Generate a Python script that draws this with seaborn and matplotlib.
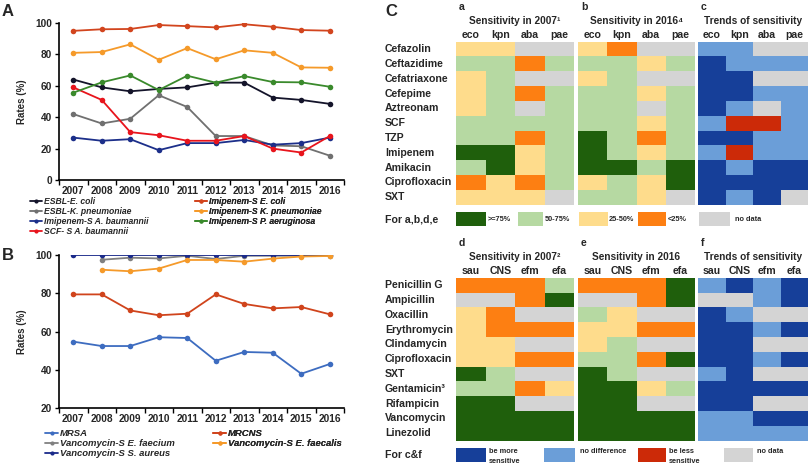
import numpy as np
import pandas as pd
import matplotlib
matplotlib.use("Agg")
import matplotlib.pyplot as plt
import seaborn as sns
from matplotlib.colors import ListedColormap
from matplotlib.patches import Rectangle
from matplotlib.lines import Line2D

sns.set_theme(style="white")
plt.rcParams["font.family"] = ["Liberation Sans", "DejaVu Sans"]
plt.rcParams["font.weight"] = "bold"
plt.rcParams["axes.labelweight"] = "bold"

# ---------------- data ----------------
years = [2007, 2008, 2009, 2010, 2011, 2012, 2013, 2014, 2015, 2016]

# Panel A
esbl_eco = [64, 59, 56.5, 58, 59, 62, 62, 52.5, 51, 48.5]
esbl_kpn = [42, 36, 39, 54, 46.5, 28, 28, 22, 21.5, 15.5]
imp_aba = [27, 25, 26, 19, 23.5, 23.5, 25.5, 22.5, 23.5, 27]
scf_aba = [59, 51, 30.5, 28.5, 25, 25, 28, 20, 17.5, 28]
imp_eco = [95, 96, 96.2, 98.7, 98, 97.2, 99.2, 97.6, 95.5, 95.1]
imp_kpn = [81, 81.5, 86.4, 76.6, 84, 76.9, 82.6, 81, 71.7, 71.5]
imp_pae = [55.6, 62.2, 66.6, 57.3, 66.4, 62, 66.2, 62.4, 62.2, 59.4]
series_A = ["ESBL-E. coli", "ESBL-K. pneumoniae", "Imipenem-S A. baumannii",
            "SCF- S A. baumannii", "Imipenem-S E. coli",
            "Imipenem-S K. pneumoniae", "Imipenem-S P. aeruginosa"]
values_A = [esbl_eco, esbl_kpn, imp_aba, scf_aba, imp_eco, imp_kpn, imp_pae]
colors_A = ["#14142a", "#707070", "#1c2f8a", "#e8141c", "#d2451e",
            "#f59a2a", "#3a8a2c"]

# Panel B
mrsa = [54.7, 52.4, 52.4, 57, 56.6, 44.7, 49.3, 48.9, 37.9, 43]
mrcns = [79.4, 79.4, 71, 68.5, 69.3, 79.4, 74.4, 72.1, 72.8, 69]
van_efm = [np.nan, 97.5, 98.6, 98.2, 99.6, 97.9, 99.6, 99.6, 99.6, 99.6]
van_efa = [np.nan, 92.3, 91.5, 92.9, 97.4, 97.4, 96.5, 98.1, 99.2, 99.5]
van_sau = [100, 100, 100, 100, 100, 100, 100, 100, 100, 100]
series_B = ["MRSA", "Vancomycin-S E. faecium", "Vancomycin-S S. aureus",
            "MRCNS", "Vancomycin-S E. faecalis"]
values_B = [mrsa, van_efm, van_sau, mrcns, van_efa]
colors_B = ["#3d6cc0", "#808080", "#1a2a8a", "#d0441c", "#f59a2a"]

# Panel C heatmaps
gn_drugs = ["Cefazolin", "Ceftazidime", "Cefatriaxone", "Cefepime", "Aztreonam",
            "SCF", "TZP", "Imipenem", "Amikacin", "Ciprofloxacin", "SXT"]
gn_orgs = ["eco", "kpn", "aba", "pae"]
gp_drugs = ["Penicillin G", "Ampicillin", "Oxacillin", "Erythromycin",
            "Clindamycin", "Ciprofloxacin", "SXT", "Gentamicin\u00b3",
            "Rifampicin", "Vancomycin", "Linezolid"]
gp_orgs = ["sau", "CNS", "efm", "efa"]
# sensitivity codes: 0 no data, 1 >=75%, 2 50-75%, 3 25-50%, 4 <25%
sens_2007_gn = [[3, 3, 0, 0], [2, 2, 4, 2], [3, 2, 0, 0], [3, 2, 4, 2],
                [3, 2, 0, 2], [2, 2, 2, 2], [2, 2, 4, 2], [1, 1, 3, 2],
                [2, 1, 3, 2], [4, 3, 4, 2], [3, 3, 3, 0]]
sens_2016_gn = [[3, 4, 0, 0], [2, 2, 3, 2], [3, 2, 0, 0], [2, 2, 3, 2],
                [2, 2, 0, 2], [2, 2, 3, 2], [1, 2, 4, 2], [1, 2, 3, 2],
                [1, 1, 2, 1], [3, 2, 3, 1], [2, 2, 3, 0]]
# trend codes: 0 no data, 1 more sensitive, 2 no difference, 3 less sensitive
trend_gn = [[2, 2, 0, 0], [1, 2, 2, 2], [1, 1, 0, 0], [1, 1, 2, 2],
            [1, 2, 0, 2], [2, 3, 3, 2], [1, 1, 2, 2], [2, 3, 2, 2],
            [1, 2, 1, 1], [1, 1, 1, 1], [1, 2, 1, 0]]
sens_2007_gp = [[4, 4, 4, 2], [0, 0, 4, 1], [3, 4, 0, 0], [3, 4, 4, 4],
                [3, 3, 0, 0], [3, 3, 4, 4], [1, 2, 0, 0], [2, 2, 4, 3],
                [1, 1, 0, 0], [1, 1, 1, 1], [1, 1, 1, 1]]
sens_2016_gp = [[4, 4, 4, 1], [0, 0, 4, 1], [2, 3, 0, 0], [3, 3, 4, 4],
                [3, 2, 0, 0], [2, 2, 4, 1], [1, 2, 0, 0], [1, 1, 3, 2],
                [1, 1, 0, 0], [1, 1, 1, 1], [1, 1, 1, 1]]
trend_gp = [[2, 1, 2, 1], [0, 0, 2, 1], [1, 2, 0, 0], [1, 1, 2, 1],
            [1, 1, 0, 0], [1, 1, 2, 1], [2, 1, 0, 0], [1, 1, 1, 1],
            [1, 1, 0, 0], [2, 2, 1, 1], [2, 2, 2, 2]]

sens_labels = [">=75%", "50-75%", "25-50%", "<25%", "no data"]
trend_labels = ["be more\nsensitive", "no difference", "be less\nsensitive", "no data"]

# ---------------- style ----------------
GRAY = "#d4d4d4"
sens_colors = [GRAY, "#1f5f0c", "#b6d9a2", "#fedc8c", "#fd7f12"]
trend_colors = [GRAY, "#163f99", "#6b9ed8", "#cc2a08"]
sens_cmap = ListedColormap(sens_colors)
trend_cmap = ListedColormap(trend_colors)

W, H = 810, 473
fig = plt.figure(figsize=(W / 100, H / 100), dpi=100)


def box(x0, y0, x1, y1):
    return [x0 / W, 1 - y1 / H, (x1 - x0) / W, (y1 - y0) / H]


def fx(x):
    return x / W


def fy(y):
    return 1 - y / H


def line_panel(rect, names, vals, cols, ylim, yticks):
    ax = fig.add_axes(rect)
    rows = []
    for n, v in zip(names, vals):
        for yr, val in zip(years, v):
            rows.append({"year": yr, "rate": val, "series": n})
    df = pd.DataFrame(rows).dropna()
    sns.lineplot(data=df, x="year", y="rate", hue="series", hue_order=names,
                 palette=dict(zip(names, cols)), marker="o", markersize=4,
                 markeredgewidth=0, linewidth=1.3, errorbar=None,
                 legend=False, ax=ax)
    ax.set_xlim(2006.5, 2016.5)
    ax.set_ylim(*ylim)
    ax.set_yticks(yticks)
    ax.set_xticks(years)
    ax.set_xticks(np.arange(2006.5, 2017, 1), minor=True)
    ax.tick_params(axis="x", which="major", length=0, pad=4, labelsize=7.3)
    ax.tick_params(axis="x", which="minor", length=3.5, width=1, direction="out",
                   color="black", bottom=True)
    ax.tick_params(axis="y", length=3, width=1, direction="out", color="black",
                   left=True, labelsize=7.3, pad=2)
    for lab in ax.get_xticklabels() + ax.get_yticklabels():
        lab.set_fontweight("bold")
    ax.set_xlabel("")
    ax.set_ylabel("Rates (%)", fontsize=7, fontweight="bold", labelpad=6)
    sns.despine(ax=ax)
    for s in ["left", "bottom"]:
        ax.spines[s].set_color("black")
        ax.spines[s].set_linewidth(1.2)
    ax.grid(False)
    return ax


def make_legend(ax, names, cols, x, ytop, fs, spacing):
    handles = [Line2D([0], [0], color=c, lw=1.3, marker="o", markersize=3,
                      markeredgewidth=0) for c in cols]
    leg = ax.legend(handles, names, loc="upper left",
                    bbox_to_anchor=(fx(x), fy(ytop)),
                    bbox_transform=fig.transFigure, frameon=False,
                    borderpad=0, borderaxespad=0, handlelength=1.4,
                    handletextpad=0.2, labelspacing=spacing,
                    prop={"size": fs, "weight": "bold", "style": "italic"})
    ax.add_artist(leg)


# Panel A
axA = line_panel(box(59, 23, 344, 180), series_A, values_A, colors_A,
                 (0, 100), [0, 20, 40, 60, 80, 100])
make_legend(axA, series_A[:4], colors_A[:4], 30, 197.5, 6.2, 0.08)
make_legend(axA, series_A[4:], colors_A[4:], 195, 197.5, 6.2, 0.08)
fig.text(fx(2), fy(11), "A", fontsize=12, fontweight="bold", va="center")

# Panel B
axB = line_panel(box(59, 255, 344, 408), series_B, values_B, colors_B,
                 (20, 100), [20, 40, 60, 80, 100])
make_legend(axB, series_B[:3], colors_B[:3], 45, 429.5, 6.8, 0.1)
make_legend(axB, series_B[3:], colors_B[3:], 213, 429.5, 6.8, 0.1)
fig.text(fx(2), fy(256), "B", fontsize=12, fontweight="bold", va="center")

# Panel C heatmaps
fig.text(fx(385), fy(12), "C", fontsize=12, fontweight="bold", va="center")
xs = [(456, 574), (578, 695), (698, 808)]


def heat(rect, mat, cmap, nlev, cols, rows=None):
    ax = fig.add_axes(rect)
    sns.heatmap(np.array(mat), cmap=cmap, vmin=-0.5, vmax=nlev - 0.5,
                cbar=False, ax=ax, xticklabels=cols,
                yticklabels=rows if rows is not None else False,
                linewidths=0)
    ax.xaxis.tick_top()
    ax.tick_params(axis="x", length=0, pad=1.5, labelsize=7.6)
    for lab in ax.get_xticklabels():
        lab.set_fontweight("bold")
        lab.set_rotation(0)
    if rows is not None:
        ax.tick_params(axis="y", length=0, pad=(456 - 385) * 0.72, labelsize=7.6)
        for lab in ax.get_yticklabels():
            lab.set_fontweight("bold")
            lab.set_rotation(0)
            lab.set_horizontalalignment("left")
    return ax


def group(ytop, ybot, mats, rows, cols, letters, titles):
    for i, ((x0, x1), mat) in enumerate(zip(xs, mats)):
        cm, nl = (trend_cmap, 4) if i == 2 else (sens_cmap, 5)
        heat(box(x0, ytop, x1, ybot), mat, cm, nl, cols, rows if i == 0 else None)
        fig.text(fx(x0 + 3), fy(ytop - 35), letters[i], fontsize=7.6,
                 fontweight="bold", va="center")
        fig.text(fx((x0 + x1) / 2), fy(ytop - 21), titles[i], fontsize=7.3,
                 fontweight="bold", va="center", ha="center")


group(41.7, 204.5, [sens_2007_gn, sens_2016_gn, trend_gn], gn_drugs, gn_orgs,
      ["a", "b", "c"],
      ["Sensitivity in 2007\u00b9", "Sensitivity in 2016\u2074", "Trends of sensitivity"])
group(277.7, 440.7, [sens_2007_gp, sens_2016_gp, trend_gp], gp_drugs, gp_orgs,
      ["d", "e", "f"],
      ["Sensitivity in 2007\u00b2", "Sensitivity in 2016", "Trends of sensitivity"])

# legends for heatmaps
fig.text(fx(385), fy(219), "For a,b,d,e", fontsize=7.6, fontweight="bold", va="center")
sens_boxes = [(456, 486, 488), (518, 543, 545), (579, 608, 609), (638, 666, 668),
              (699, 730, 735)]
sens_order = [1, 2, 3, 4, 0]
for (b0, b1, tx), code, lab in zip(sens_boxes, sens_order, sens_labels):
    fig.add_artist(Rectangle((fx(b0), fy(226)), (b1 - b0) / W, 14 / H,
                             transform=fig.transFigure, color=sens_colors[code], lw=0))
    fig.text(fx(tx), fy(219.5), lab, fontsize=5.3, fontweight="bold", va="center")

fig.text(fx(385), fy(455), "For c&f", fontsize=7.6, fontweight="bold", va="center")
trend_boxes = [(456, 486, 489), (544, 575, 580), (638, 666, 669), (724, 753, 757)]
trend_order = [1, 2, 3, 0]
for (b0, b1, tx), code, lab in zip(trend_boxes, trend_order, trend_labels):
    fig.add_artist(Rectangle((fx(b0), fy(462)), (b1 - b0) / W, 14 / H,
                             transform=fig.transFigure, color=trend_colors[code], lw=0))
    fig.text(fx(tx), fy(448), lab, fontsize=5.3, fontweight="bold", va="top",
             linespacing=1.5)

fig.savefig("out.png", dpi=100)
